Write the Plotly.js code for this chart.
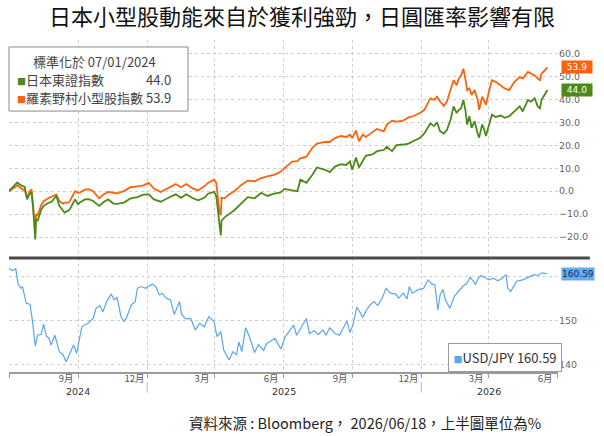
<!DOCTYPE html>
<html>
<head>
<meta charset="utf-8">
<script src="https://cdn.plot.ly/plotly-3.0.1.min.js"></script>
<style>
  html, body { margin: 0; padding: 0; background: #ffffff; }
  #chart { width: 604px; height: 436px; }
</style>
</head>
<body>
<div id="chart"></div>
<script>
// top panel: both indices normalised at 07/01/2024 (%)
var idxDates = [
  '2024-07-01','2024-07-05','2024-07-10','2024-07-12','2024-07-17','2024-07-22','2024-07-25','2024-07-29','2024-07-31',
  '2024-08-02','2024-08-05','2024-08-06','2024-08-08','2024-08-13','2024-08-16','2024-08-21','2024-08-27',
  '2024-09-02','2024-09-06','2024-09-11','2024-09-13','2024-09-18','2024-09-20','2024-09-27',
  '2024-10-01','2024-10-04','2024-10-10','2024-10-15','2024-10-21','2024-10-29',
  '2024-11-05','2024-11-10','2024-11-17','2024-11-22','2024-12-01','2024-12-10','2024-12-19','2024-12-27',
  '2025-01-03','2025-01-10','2025-01-19','2025-01-28','2025-02-08','2025-02-15','2025-02-22',
  '2025-03-03','2025-03-10','2025-03-18','2025-03-23','2025-03-31','2025-04-03','2025-04-07','2025-04-09','2025-04-10',
  '2025-04-14','2025-04-20','2025-04-27','2025-05-06','2025-05-15','2025-05-24','2025-06-02','2025-06-10','2025-06-19','2025-06-27',
  '2025-07-03','2025-07-13','2025-07-20','2025-07-24','2025-08-01','2025-08-09','2025-08-15','2025-08-26',
  '2025-09-01','2025-09-08','2025-09-16','2025-09-23','2025-09-28','2025-10-01','2025-10-06','2025-10-10','2025-10-15','2025-10-19','2025-10-28',
  '2025-11-03','2025-11-12','2025-11-16','2025-11-23','2025-11-29','2025-12-08','2025-12-15','2025-12-21','2025-12-30',
  '2026-01-05','2026-01-13','2026-01-18','2026-01-22','2026-01-26','2026-01-31','2026-02-04','2026-02-09','2026-02-13','2026-02-17',
  '2026-02-20','2026-02-23','2026-02-26','2026-03-01','2026-03-03','2026-03-06','2026-03-09','2026-03-13','2026-03-17','2026-03-19',
  '2026-03-23','2026-03-25','2026-03-28','2026-04-01','2026-04-05','2026-04-10','2026-04-17','2026-04-22','2026-04-28',
  '2026-05-05','2026-05-12','2026-05-16','2026-05-23','2026-05-27','2026-06-01','2026-06-05','2026-06-08','2026-06-10','2026-06-15','2026-06-18'
];
var topix = [
  0.0, 1.5, 3.0, 3.8, 2.5, 1.8, -3.6, -1.0, -0.5,
  -7.0, -21.0, -12.0, -13.0, -8.0, -6.5, -5.4, -4.5,
  -2.0, -6.4, -8.5, -9.3, -8.5, -7.9, -3.6,
  -5.7, -4.8, -3.6, -3.5, -4.3, -6.4,
  -4.5, -3.6, -5.4, -5.5, -5.0, -3.1, -2.6, -1.5,
  -1.4, -3.6, -4.6, -3.1, -1.4, -2.9, -1.4,
  -3.1, -4.0, -2.9, -1.1, -0.3, -2.1, -13.6, -19.3, -12.9,
  -11.4, -10.0, -8.3, -5.4, -2.6, -3.1, -0.7, -2.1, -1.1, -0.7,
  1.0, 0.3, 0.0, 5.0, 3.6, 7.1, 10.3, 9.3,
  8.3, 10.7, 11.7, 11.4, 12.9, 9.3, 14.6, 10.3, 12.9, 15.4, 16.0,
  17.4, 17.9, 19.3, 17.4, 20.0, 20.3, 20.7, 21.7, 23.1,
  25.1, 29.4, 28.3, 30.0, 26.1, 25.1, 26.6, 31.1, 36.9, 34.0,
  35.4, 36.1, 39.7, 34.7, 29.0, 32.6, 27.6, 30.4, 25.1, 23.3,
  29.0, 27.6, 24.0, 29.0, 33.3, 32.3, 32.9, 31.9, 32.6,
  34.7, 36.9, 34.7, 39.7, 39.0, 40.4, 36.9, 36.1, 39.7, 42.6, 44.0
];
var russellNomura = [
  0.0, 0.8, 2.0, 2.6, 1.2, 0.3, -2.8, 0.2, 0.8,
  -6.0, -18.0, -10.0, -10.5, -6.0, -4.5, -3.3, -2.5,
  -1.4, -4.3, -5.5, -5.0, -5.0, -4.3, 0.0,
  -0.7, -0.5, 0.7, 0.9, 0.0, -3.1,
  -1.2, -0.3, -0.7, -1.0, 0.0, 1.7, 2.1, 2.5,
  3.6, 1.1, -0.4, 1.1, 3.1, 1.7, 3.1,
  1.1, 0.4, 2.1, 3.6, 5.0, 3.6, -8.6, -10.5, -2.9,
  -3.1, -1.4, 0.0, 2.6, 4.6, 4.3, 5.7, 6.4, 7.1, 8.3,
  10.0, 12.9, 13.1, 14.3, 15.0, 18.9, 20.7, 21.4,
  21.4, 23.1, 24.0, 23.6, 24.6, 23.1, 26.4, 21.7, 24.6, 23.6, 25.7,
  27.1, 26.0, 28.9, 30.7, 30.3, 30.7, 32.1, 32.6, 34.0,
  35.4, 40.4, 39.7, 41.1, 39.0, 37.1, 39.0, 44.0, 48.3, 46.1,
  49.0, 50.4, 53.3, 48.3, 44.0, 44.7, 41.9, 44.0, 39.7, 35.4,
  41.1, 39.7, 37.6, 43.3, 48.3, 47.6, 46.1, 44.7, 44.0,
  47.6, 49.7, 49.0, 51.9, 51.1, 50.4, 49.0, 48.3, 51.1, 52.6, 53.9
];

// bottom panel: USD/JPY
var fxDates = [
  '2024-07-01','2024-07-06','2024-07-10','2024-07-13','2024-07-17','2024-07-19','2024-07-24','2024-07-29',
  '2024-08-01','2024-08-05','2024-08-08','2024-08-13','2024-08-16','2024-08-20','2024-08-23','2024-08-26','2024-08-31',
  '2024-09-06','2024-09-11','2024-09-15','2024-09-20','2024-09-25','2024-09-29',
  '2024-10-02','2024-10-06','2024-10-14','2024-10-21','2024-10-25','2024-10-30',
  '2024-11-03','2024-11-08','2024-11-14','2024-11-18','2024-11-22','2024-11-27',
  '2024-12-01','2024-12-04','2024-12-11','2024-12-16','2024-12-19','2024-12-24','2024-12-30',
  '2025-01-08','2025-01-13','2025-01-17','2025-01-21','2025-01-26',
  '2025-02-01','2025-02-06','2025-02-13','2025-02-16','2025-02-21','2025-02-28',
  '2025-03-06','2025-03-12','2025-03-18','2025-03-24','2025-03-31',
  '2025-04-04','2025-04-09','2025-04-13','2025-04-20','2025-04-25','2025-04-30',
  '2025-05-03','2025-05-07','2025-05-12','2025-05-17','2025-05-24','2025-05-29',
  '2025-06-05','2025-06-09','2025-06-20','2025-06-28','2025-07-04','2025-07-15','2025-07-19',
  '2025-08-01','2025-08-05','2025-08-11','2025-08-17','2025-08-23','2025-08-27',
  '2025-09-01','2025-09-08','2025-09-14','2025-09-18','2025-09-24','2025-09-28',
  '2025-10-02','2025-10-07','2025-10-11','2025-10-15','2025-10-20','2025-10-25','2025-10-30',
  '2025-11-04','2025-11-10','2025-11-15','2025-11-21','2025-11-28',
  '2025-12-02','2025-12-08','2025-12-13','2025-12-16','2025-12-20','2025-12-28',
  '2026-01-04','2026-01-10','2026-01-15','2026-01-19','2026-01-23','2026-01-26','2026-01-30',
  '2026-02-02','2026-02-08','2026-02-14','2026-02-20','2026-02-25',
  '2026-03-03','2026-03-07','2026-03-11','2026-03-14','2026-03-18','2026-03-22',
  '2026-04-01','2026-04-07','2026-04-13','2026-04-19','2026-04-24','2026-04-26','2026-04-30',
  '2026-05-04','2026-05-08','2026-05-16','2026-05-25','2026-05-31',
  '2026-06-05','2026-06-11','2026-06-18'
];
var usdJpy = [
  161.7, 161.3, 161.7, 158.3, 157.3, 157.7, 153.9, 153.7,
  150.2, 144.3, 146.7, 146.9, 149.2, 146.4, 146.1, 144.5, 146.7,
  143.0, 142.3, 140.7, 142.6, 144.5, 142.6,
  145.2, 148.6, 149.4, 150.5, 152.8, 153.4,
  152.0, 154.3, 156.0, 154.7, 155.2, 150.9,
  149.8, 150.5, 153.6, 154.3, 157.3, 157.7, 157.3,
  158.3, 157.5, 155.8, 156.2, 155.1,
  154.7, 151.4, 154.3, 151.4, 150.4, 150.5,
  147.9, 149.4, 148.6, 150.9, 149.8,
  146.4, 147.5, 143.3, 141.1, 143.0, 142.3,
  145.2, 143.0, 148.4, 146.4, 142.8, 144.6,
  143.3, 144.8, 146.0, 143.6, 146.4, 149.0, 146.7,
  150.5, 147.1, 147.7, 146.9, 147.9, 146.7,
  148.4, 147.1, 146.7, 147.9, 149.9, 147.3,
  149.0, 153.0, 152.0, 150.7, 152.4, 153.6, 154.3,
  153.4, 155.1, 157.3, 156.2, 156.0,
  155.1, 156.2, 154.9, 157.7, 156.2, 157.0,
  157.3, 159.2, 158.3, 158.1, 152.4, 155.8, 157.0,
  154.7, 152.8, 155.5, 156.6, 157.7,
  158.5, 159.8, 159.0, 158.1, 159.6, 160.2,
  159.2, 159.6, 159.0, 159.6, 160.4, 157.3, 156.6,
  157.7, 158.9, 159.2, 160.0, 160.4,
  160.2, 160.8, 160.59
];

// axis labels
var monthTickVals = ['2024-09-15','2024-12-15','2025-03-15','2025-06-15','2025-09-15','2025-12-15','2026-03-15','2026-06-15'];
var monthTickText = ['9月','12月','3月','6月','9月','12月','3月','6月'];
var yearLabelPos = ['2024-10-01','2025-07-02','2026-04-01'];
var yearLabelText = ['2024','2025','2026'];
var yearBreaks = ['2025-01-01','2026-01-01'];
var topTicks = [-20, -10, 0, 10, 20, 30, 40, 50, 60];
var fxTicks = [140, 150, 160];
var fxTickText = ['140', '150', ''];

var ORANGE = '#f8640f';
var GREEN = '#4b8a17';
var BLUE = '#5aa7ec';
var CJK = 'Noto Sans CJK TC, Noto Sans, sans-serif';
var NUM = 'DejaVu Sans, Noto Sans, sans-serif';

var lastTopix = topix[topix.length - 1];
var lastRn = russellNomura[russellNomura.length - 1];
var lastFx = usdJpy[usdJpy.length - 1];

var traces = [
  {
    x: idxDates, y: russellNomura, xaxis: 'x', yaxis: 'y',
    mode: 'lines', name: '羅素野村小型股指數',
    line: { color: ORANGE, width: 1.8 }
  },
  {
    x: idxDates, y: topix, xaxis: 'x', yaxis: 'y',
    mode: 'lines', name: '日本東證指數',
    line: { color: GREEN, width: 1.8 }
  },
  {
    x: fxDates, y: usdJpy, xaxis: 'x', yaxis: 'y2',
    mode: 'lines', name: 'USD/JPY',
    line: { color: BLUE, width: 1.2 }
  }
];

// legend rows of the top panel (ideographic spaces keep the values lined up)
var legendRows = [
  '\u3000 標準化於 07/01/2024',
  '<span style="color:' + GREEN + ';font-size:9px">■</span>日本東證指數\u3000\u3000\u3000 ' + lastTopix.toFixed(1),
  '<span style="color:' + ORANGE + ';font-size:9px">■</span>羅素野村小型股指數 ' + lastRn.toFixed(1)
];
var legendRowY = [0.934, 0.8825, 0.8265];

var annotations = [
  // last-value tags on the right
  { xref: 'paper', yref: 'y', x: 1.005, y: lastRn, text: lastRn.toFixed(1), showarrow: false,
    xanchor: 'left', yanchor: 'middle', bgcolor: ORANGE, borderpad: 1,
    font: { family: NUM, size: 9, color: '#ffffff' }, width: 28 },
  { xref: 'paper', yref: 'y', x: 1.005, y: lastTopix, text: lastTopix.toFixed(1), showarrow: false,
    xanchor: 'left', yanchor: 'middle', bgcolor: GREEN, borderpad: 1,
    font: { family: NUM, size: 9, color: '#ffffff' }, width: 28 },
  { xref: 'paper', yref: 'y2', x: 1.005, y: lastFx, text: lastFx.toFixed(2), showarrow: false,
    xanchor: 'left', yanchor: 'middle', bgcolor: '#62adf0', borderpad: 1,
    font: { family: NUM, size: 9, color: '#13254f' }, width: 30 },
  // USD/JPY legend
  { xref: 'paper', yref: 'paper', x: 0.903, y: 0.045,
    text: '<span style="color:' + BLUE + ';font-size:9px">■</span>USD/JPY ' + lastFx.toFixed(2), showarrow: false,
    xanchor: 'center', yanchor: 'middle', bgcolor: '#ffffff', bordercolor: '#9a9a9a', borderwidth: 1, borderpad: 4,
    font: { family: CJK, size: 13, color: '#333' }, width: 104 },
  // footer
  { xref: 'paper', yref: 'paper', x: 0.9727, y: -0.1536, text: '資料來源 : Bloomberg， 2026/06/18，上半圖單位為%',
    showarrow: false, xanchor: 'right', yanchor: 'middle', font: { family: CJK, size: 14.5, color: '#222' } }
];
legendRows.forEach(function (t, i) {
  annotations.push({ xref: 'paper', yref: 'paper', x: 0.011, y: legendRowY[i], text: t, showarrow: false,
    align: 'left', xanchor: 'left', yanchor: 'middle', font: { family: CJK, size: 13, color: '#444' } });
});
yearLabelPos.forEach(function (d, i) {
  annotations.push({ xref: 'x', yref: 'paper', x: d, y: -0.058, text: yearLabelText[i], showarrow: false,
    xanchor: 'center', yanchor: 'middle', font: { family: NUM, size: 9.5, color: '#333' } });
});

var shapes = [
  { type: 'rect', xref: 'paper', yref: 'paper', x0: 0, x1: 0.326, y0: 0.786, y1: 0.979,
    line: { color: '#8a8a8a', width: 1 }, fillcolor: '#ffffff', layer: 'above' },
  { type: 'line', xref: 'paper', yref: 'paper', x0: 0, x1: 1.058, y0: 0.3434, y1: 0.3434,
    line: { color: '#4a4a4a', width: 3 } }
];
yearBreaks.forEach(function (d) {
  shapes.push({ type: 'line', xref: 'x', yref: 'paper', x0: d, x1: d, y0: -0.03, y1: -0.062,
    line: { color: '#bbbbbb', width: 1 } });
});

var gridStyle = { gridcolor: '#cfcfcf', griddash: 'dot', gridwidth: 1 };

var layout = {
  width: 604, height: 436,
  margin: { l: 9, r: 46, t: 40, b: 64 },
  paper_bgcolor: '#ffffff', plot_bgcolor: '#ffffff',
  showlegend: false,
  title: {
    text: '日本小型股動能來自於獲利強勁，日圓匯率影響有限',
    x: 0.5, xanchor: 'center', y: 0.961, yanchor: 'middle',
    font: { family: CJK, size: 22, color: '#111' }
  },
  xaxis: {
    type: 'date', anchor: 'y2',
    range: ['2024-07-01', '2026-07-02'],
    tickmode: 'array', tickvals: monthTickVals, ticktext: monthTickText,
    ticks: '', showgrid: false, zeroline: false,
    showline: true, linecolor: '#9a9a9a', linewidth: 1.5,
    ticklabelstandoff: -3,
    tickfont: { family: CJK, size: 9.5, color: '#555' },
    minor: { tick0: '2024-07-01', dtick: 'M3', ticks: 'outside', ticklen: 4, tickcolor: '#9a9a9a',
      showgrid: true, gridcolor: '#cfcfcf', griddash: 'dot', gridwidth: 1 }
  },
  yaxis: Object.assign({
    domain: [0.3434, 1], side: 'right', anchor: 'x',
    range: [-29.1, 65.8],
    tickmode: 'array', tickvals: topTicks, tickformat: '.1f',
    zeroline: false, showline: false, ticks: '',
    tickfont: { family: NUM, size: 9.5, color: '#666' }
  }, gridStyle),
  yaxis2: Object.assign({
    domain: [0, 0.3434], side: 'right', anchor: 'x',
    range: [138.4, 164.15],
    tickmode: 'array', tickvals: fxTicks, ticktext: fxTickText,
    zeroline: false, showline: false, ticks: '',
    tickfont: { family: NUM, size: 9.5, color: '#666' }
  }, gridStyle),
  annotations: annotations,
  shapes: shapes
};

Plotly.newPlot('chart', traces, layout, { staticPlot: true, displayModeBar: false });
</script>
</body>
</html>
